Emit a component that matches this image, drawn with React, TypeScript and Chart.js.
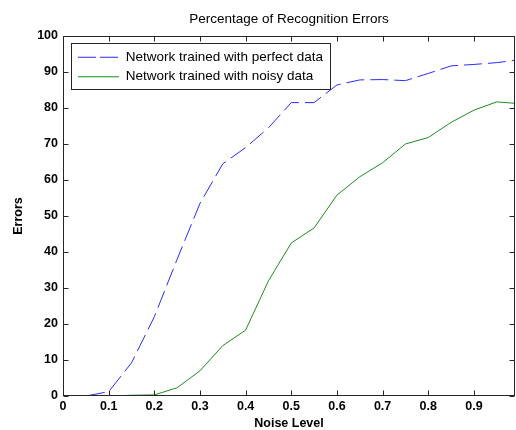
import React, { useEffect, useRef } from "react";
import { Chart, registerables } from "chart.js";

Chart.register(...registerables);

const noiseLevels = [0, 0.05, 0.1, 0.15, 0.2, 0.25, 0.3, 0.35, 0.4, 0.45, 0.5, 0.55, 0.6, 0.65, 0.7, 0.75, 0.8, 0.85, 0.9, 0.95, 1.0];
const perfectErrors = [0, 0, 1.2, 9.2, 22, 38, 53.5, 64.5, 69, 74.5, 81.5, 81.5, 86.4, 87.8, 87.9, 87.6, 89.6, 91.7, 92.1, 92.6, 93.4];
const noisyErrors = [0, 0, 0, 0.2, 0.3, 2.3, 7, 14, 18.3, 32, 42.5, 46.7, 55.8, 60.9, 64.8, 70, 71.8, 76, 79.4, 81.7, 81.2];
const xTickValues = [0, 0.1, 0.2, 0.3, 0.4, 0.5, 0.6, 0.7, 0.8, 0.9];
const yTickValues = [0, 10, 20, 30, 40, 50, 60, 70, 80, 90, 100];
const seriesNames = ["Network trained with perfect data", "Network trained with noisy data"];
const chartTitle = "Percentage of Recognition Errors";
const xTitle = "Noise Level";
const yTitle = "Errors";

const FONT = "'Liberation Sans', Arial, sans-serif";

const framePlugin = {
  id: "matlabFrame",
  afterLayout(chart: any) {
    const lg = chart.legend;
    if (lg) {
      const w = lg.width;
      const h = lg.height;
      lg.left = chart.chartArea.left + 9;
      lg.right = lg.left + w;
      lg.top = chart.chartArea.top + 8.5;
      lg.bottom = lg.top + h;
    }
  },
  afterDraw(chart: any) {
    const ctx = chart.ctx;
    const { left, right, top, bottom } = chart.chartArea;
    const xs = chart.scales.x;
    const ys = chart.scales.y;
    ctx.save();
    ctx.strokeStyle = "#262626";
    ctx.lineWidth = 1;
    ctx.setLineDash([]);
    const L = Math.round(left) + 0.5;
    const R = Math.round(right) - 0.5;
    const T = Math.round(top) + 0.5;
    const B = Math.round(bottom) - 0.5;
    ctx.strokeRect(L, T, R - L, B - T);
    const tl = 5;
    ctx.beginPath();
    xTickValues.forEach((v) => {
      const px = Math.round(xs.getPixelForValue(v)) + 0.5;
      ctx.moveTo(px, B);
      ctx.lineTo(px, B - tl);
      ctx.moveTo(px, T);
      ctx.lineTo(px, T + tl);
    });
    yTickValues.forEach((v) => {
      const py = Math.round(ys.getPixelForValue(v)) + 0.5;
      ctx.moveTo(L, py);
      ctx.lineTo(L + tl, py);
      ctx.moveTo(R, py);
      ctx.lineTo(R - tl, py);
    });
    ctx.stroke();
    const lg = chart.legend;
    if (lg && lg.legendHitBoxes && lg.legendHitBoxes.length) {
      const hb = lg.legendHitBoxes;
      let minX = Infinity, maxX = -Infinity, minY = Infinity, maxY = -Infinity;
      hb.forEach((h: any) => {
        minX = Math.min(minX, h.left);
        maxX = Math.max(maxX, h.left + h.width);
        minY = Math.min(minY, h.top);
        maxY = Math.max(maxY, h.top + h.height);
      });
      const fx = Math.round(minX - 7) + 0.5;
      const fy = Math.round(minY - 7.5) + 0.5;
      const fr = Math.round(maxX + 7) + 0.5;
      const fb = Math.round(maxY + 5) + 0.5;
      ctx.strokeStyle = "#262626";
      ctx.strokeRect(fx, fy, fr - fx, fb - fy);
    }
    ctx.restore();
  },
};

export default function App() {
  const ref = useRef<HTMLCanvasElement | null>(null);
  useEffect(() => {
    if (!ref.current) return;
    const chart = new Chart(ref.current, {
      type: "line",
      data: {
        datasets: [
          {
            label: seriesNames[0],
            data: noiseLevels.map((x, i) => ({ x, y: perfectErrors[i] })),
            borderColor: "#2a2aff",
            backgroundColor: "#2a2aff",
            borderWidth: 1,
            borderDash: [18, 6],
            pointRadius: 0,
            tension: 0,
          },
          {
            label: seriesNames[1],
            data: noiseLevels.map((x, i) => ({ x, y: noisyErrors[i] })),
            borderColor: "#1c8c1c",
            backgroundColor: "#1c8c1c",
            borderWidth: 1,
            borderDash: [],
            pointRadius: 0,
            tension: 0,
          },
        ],
      },
      options: {
        animation: false,
        responsive: false,
        devicePixelRatio: 1,
        layout: { padding: { left: 0, top: 0, right: 1, bottom: 0 } },
        plugins: {
          title: {
            display: true,
            text: chartTitle,
            fullSize: false,
            color: "#000",
            font: { family: FONT, size: 13.5, weight: "normal" },
            padding: { top: 11.5, bottom: 8.3 },
          },
          legend: {
            position: "chartArea",
            align: "start",
            labels: {
              usePointStyle: true,
              pointStyle: "line",
              pointStyleWidth: 41,
              boxHeight: 13,
              padding: 6,
              color: "#000",
              font: { family: FONT, size: 13.5 },
              generateLabels: (c: any) => {
                const items = Chart.defaults.plugins.legend.labels.generateLabels(c);
                return items.map((it: any) => {
                  const ds = c.data.datasets[it.datasetIndex];
                  const dashed = ds.borderDash && ds.borderDash.length;
                  return {
                    ...it,
                    lineDash: dashed ? [18, 4] : [],
                    strokeStyle: ds.borderColor,
                    fillStyle: ds.borderColor,
                    lineWidth: 1,
                  };
                });
              },
            },
          },
          tooltip: { enabled: false },
        },
        scales: {
          x: {
            type: "linear",
            min: 0,
            max: 0.99,
            afterBuildTicks: (s: any) => {
              s.ticks = xTickValues.map((v) => ({ value: v }));
            },
            afterFit: (s: any) => {
              s.height = 34;
            },
            grid: { display: false, drawTicks: false },
            border: { display: false },
            ticks: {
              padding: 3,
              color: "#000",
              maxRotation: 0,
              autoSkip: false,
              font: { family: FONT, size: 12.5, weight: "bold" },
              callback: (v: any) => String(v),
            },
            title: {
              display: true,
              text: xTitle,
              color: "#000",
              font: { family: FONT, size: 12.5, weight: "bold" },
              padding: { top: 0, bottom: -1 },
            },
          },
          y: {
            type: "linear",
            min: 0,
            max: 100,
            afterBuildTicks: (s: any) => {
              s.ticks = yTickValues.map((v) => ({ value: v }));
            },
            afterFit: (s: any) => {
              s.width = 63;
            },
            grid: { display: false, drawTicks: false },
            border: { display: false },
            ticks: {
              padding: 5,
              color: "#000",
              autoSkip: false,
              font: { family: FONT, size: 12.5, weight: "bold" },
            },
            title: {
              display: true,
              text: yTitle,
              color: "#000",
              font: { family: FONT, size: 12.5, weight: "bold" },
              padding: { top: 11, bottom: 0 },
            },
          },
        },
      },
      plugins: [framePlugin],
    } as any);
    return () => chart.destroy();
  }, []);
  return (
    <div style={{ position: "absolute", left: 0, top: 0, width: 516, height: 430, background: "#fff" }}>
      <canvas ref={ref} width={516} height={430} style={{ display: "block" }} />
    </div>
  );
}
